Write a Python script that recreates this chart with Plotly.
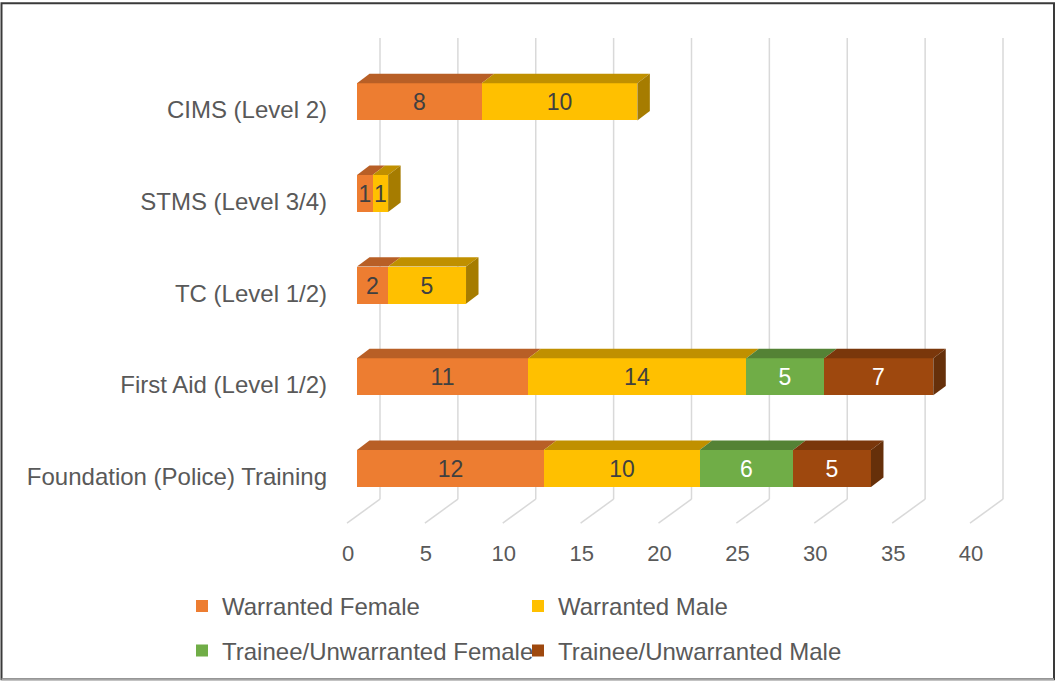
import plotly.graph_objects as go

# ---------------- data ----------------
categories = ["Foundation (Police) Training", "First Aid (Level 1/2)", "TC (Level 1/2)",
              "STMS (Level 3/4)", "CIMS (Level 2)"]
warranted_female = [12, 11, 2, 1, 8]
warranted_male = [10, 14, 5, 1, 10]
trainee_female = [6, 5, 0, 0, 0]
trainee_male = [5, 7, 0, 0, 0]
x_ticks = [0, 5, 10, 15, 20, 25, 30, 35, 40]

series_names = ["Warranted Female", "Warranted Male",
                "Trainee/Unwarranted Female", "Trainee/Unwarranted Male"]
series_values = [warranted_female, warranted_male, trainee_female, trainee_male]

# ---------------- styles ----------------
front_colors = ["#ED7D31", "#FFC000", "#70AD47", "#9E480E"]
top_colors = ["#B85F26", "#C09000", "#548235", "#7A370B"]
side_colors = ["#A5561F", "#A67C00", "#4A7230", "#66300A"]
label_colors = ["#404040", "#404040", "#FFFFFF", "#FFFFFF"]
FONT = "Liberation Sans, Arial, sans-serif"
GRID = "#D9D9D9"

# geometry (px -> data conversions)
W, H = 1056, 686
PL, PR, PT, PB = 340, 1020, 30, 530          # plot area in px
X0PX, XSCALE = 357, 15.575                     # px of value 0, px per unit
C0PX, CSCALE = 472, 92.4                       # px of first category, px per category
xr = [(PL - X0PX) / XSCALE, (PR - X0PX) / XSCALE]
yr = [(C0PX - PB) / CSCALE, (C0PX - PT) / CSCALE]
BAR_W = 0.405
DX = 12.5 / XSCALE     # depth offset x
DY = 9.5 / CSCALE      # depth offset y
BACK_X = 23 / XSCALE
FRONT_X = -10 / XSCALE
WALL_TOP = (C0PX - 38) / CSCALE
FLOOR_BACK = (C0PX - 503) / CSCALE
FLOOR_FRONT = (C0PX - 527) / CSCALE

ypos = list(range(len(categories)))

fig = go.Figure()

# front faces
for name, vals, fc, lc in zip(series_names, series_values, front_colors, label_colors):
    fig.add_trace(go.Bar(
        y=ypos, x=[v if v else None for v in vals], orientation="h", name=name,
        width=BAR_W, marker=dict(color=fc, line=dict(width=0)),
        text=[str(v) if v else "" for v in vals], textposition="inside",
        insidetextanchor="middle", textangle=0, constraintext="none",
        insidetextfont=dict(family=FONT, size=23, color=lc),
        hoverinfo="skip", legend="legend" if name in series_names[:2] else "legend2",
    ))

# top and side faces (3D look)
for ci, yc in enumerate(ypos):
    start = 0
    last = None
    for si, vals in enumerate(series_values):
        v = vals[ci]
        if not v:
            continue
        end = start + v
        yt = yc + BAR_W / 2
        fig.add_trace(go.Scatter(
            x=[start, end, end + DX, start + DX, start],
            y=[yt, yt, yt + DY, yt + DY, yt],
            fill="toself", fillcolor=top_colors[si], mode="lines",
            line=dict(width=0, color=top_colors[si]), showlegend=False, hoverinfo="skip"))
        start = end
        last = si
    yb = yc - BAR_W / 2
    yt = yc + BAR_W / 2
    fig.add_trace(go.Scatter(
        x=[start, start + DX, start + DX, start, start],
        y=[yb, yb + DY, yt + DY, yt, yb],
        fill="toself", fillcolor=side_colors[last], mode="lines",
        line=dict(width=0, color=side_colors[last]), showlegend=False, hoverinfo="skip"))

# gridlines: back wall + floor
shapes = []
for t in x_ticks:
    shapes.append(dict(type="line", xref="x", yref="y", x0=t + BACK_X, x1=t + BACK_X,
                       y0=FLOOR_BACK, y1=WALL_TOP, line=dict(color=GRID, width=1.5), layer="below"))
    shapes.append(dict(type="line", xref="x", yref="y", x0=t + BACK_X, x1=t + FRONT_X,
                       y0=FLOOR_BACK, y1=FLOOR_FRONT, line=dict(color=GRID, width=1.5), layer="below"))

# chart border
def px2paper_x(p):
    return (p - PL) / (PR - PL)

def px2paper_y(p):
    return (PB - p) / (PB - PT)

shapes.append(dict(type="rect", xref="paper", yref="paper",
                   x0=px2paper_x(1.5), x1=px2paper_x(W - 2), y0=px2paper_y(H - 1.5), y1=px2paper_y(3),
                   line=dict(color="#3A3A3A", width=2), layer="above"))
shapes.append(dict(type="line", xref="paper", yref="paper",
                   x0=px2paper_x(1.5), x1=px2paper_x(W - 2), y0=px2paper_y(H - 1.5), y1=px2paper_y(H - 1.5),
                   line=dict(color="#A6A6A6", width=2), layer="above"))

legend_common = dict(orientation="h", xanchor="left", yanchor="middle", traceorder="normal",
                     font=dict(family=FONT, size=24, color="#595959"),
                     entrywidth=291, entrywidthmode="pixels", bgcolor="rgba(0,0,0,0)",
                     itemclick=False, itemdoubleclick=False)

fig.update_layout(
    width=W, height=H,
    margin=dict(l=PL, r=W - PR, t=PT, b=H - PB, pad=0),
    paper_bgcolor="white", plot_bgcolor="white",
    barmode="stack", bargap=0,
    showlegend=True,
    shapes=shapes,
    font=dict(family=FONT, size=22, color="#595959"),
    xaxis=dict(range=xr, tickvals=x_ticks, ticktext=[str(t) for t in x_ticks],
               showgrid=False, zeroline=False, showline=False, ticks="",
               ticklabelshift=-9, ticklabelstandoff=12,
               tickfont=dict(family=FONT, size=22, color="#595959"), fixedrange=True),
    yaxis=dict(range=yr, tickvals=ypos, ticktext=categories,
               showgrid=False, zeroline=False, showline=False, ticks="",
               ticklabelshift=8, ticklabelstandoff=12,
               tickfont=dict(family=FONT, size=24, color="#595959"), fixedrange=True),
    legend=dict(x=px2paper_x(182), y=px2paper_y(611), **legend_common),
    legend2=dict(x=px2paper_x(182), y=px2paper_y(656), **legend_common),
    hovermode=False,
)

fig.write_html("out.html", config={"displayModeBar": False},
               post_script="document.body.style.margin='0';document.body.style.overflow='hidden';")
